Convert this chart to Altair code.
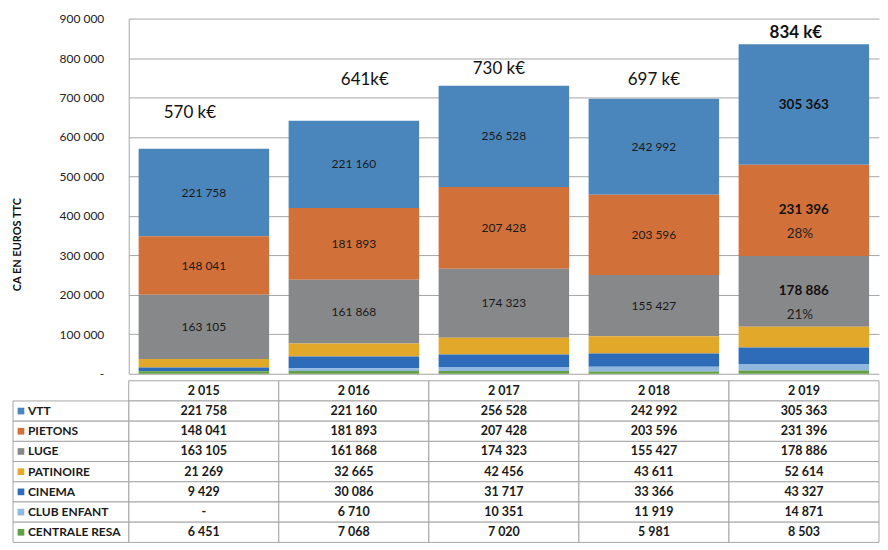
import altair as alt
import pandas as pd

years = [2015, 2016, 2017, 2018, 2019]
series = ["VTT", "PIETONS", "LUGE", "PATINOIRE", "CINEMA", "CLUB ENFANT", "CENTRALE RESA"]
vtt = [221758, 221160, 256528, 242992, 305363]
pietons = [148041, 181893, 207428, 203596, 231396]
luge = [163105, 161868, 174323, 155427, 178886]
patinoire = [21269, 32665, 42456, 43611, 52614]
cinema = [9429, 30086, 31717, 33366, 43327]
club_enfant = [0, 6710, 10351, 11919, 14871]
centrale_resa = [6451, 7068, 7020, 5981, 8503]
total_labels = ["570 k€", "641k€", "730 k€", "697 k€", "834 k€"]
colors = ["#4A86BC", "#D2703A", "#878889", "#E1A829", "#2E6BB8", "#8FB7DF", "#63A045"]

values = {
    "VTT": vtt, "PIETONS": pietons, "LUGE": luge, "PATINOIRE": patinoire,
    "CINEMA": cinema, "CLUB ENFANT": club_enfant, "CENTRALE RESA": centrale_resa,
}

rows = []
for si, s in enumerate(series):
    for yi, yr in enumerate(years):
        rows.append({"year": yr, "series": s, "value": values[s][yi],
                     "order": len(series) - 1 - si})
df = pd.DataFrame(rows)

tot = df.groupby("year", as_index=False)["value"].sum()
tot["label"] = total_labels

color_enc = alt.Color("series:N", scale=alt.Scale(domain=series, range=colors), legend=None)
GRID = "#a6a6a6"
TXT = "#1a1a1a"
W = 752

xenc = alt.X("year:O", scale=alt.Scale(paddingInner=0.13, paddingOuter=0.066), axis=None)
yscale = alt.Scale(domain=[0, 900000], nice=False)
yaxis = alt.Axis(values=list(range(0, 900001, 100000)), format=",d",
                 labelExpr="datum.value == 0 ? '-' : datum.label",
                 labelOverlap=False, labelFlush=False,
                 ticks=False, labelPadding=25, labelFontSize=12, labelColor="#222",
                 grid=True, gridColor=GRID, gridWidth=1, domain=True, domainColor=GRID,
                 title="CA EN EUROS TTC", titleFontSize=11, titleFontWeight="bold",
                 titleColor="#111", titleAngle=270, titleX=-111, titleY=226,
                 titleAlign="center", titleBaseline="middle")


def yq(field):
    return alt.Y(field, scale=yscale, axis=yaxis)


base = (
    alt.Chart(df)
    .transform_joinaggregate(total="sum(value)", groupby=["year"])
    .transform_stack(stack="value", groupby=["year"],
                     sort=[alt.SortField("order", order="ascending")], as_=["y0", "y1"])
    .transform_calculate(mid="(datum.y0 + datum.y1) / 2")
)

bars = base.mark_bar().encode(x=xenc, y=yq("y0:Q"), y2="y1:Q", color=color_enc)

top3 = "(datum.series == 'VTT' || datum.series == 'PIETONS' || datum.series == 'LUGE')"

seg_labels = base.transform_filter(f"datum.year < 2019 && {top3}").mark_text(
    fontSize=12, color=TXT, baseline="middle"
).encode(x=xenc, y=yq("mid:Q"), text=alt.Text("value:Q", format=",d"))

seg_labels19 = base.transform_filter(f"datum.year == 2019 && {top3}").mark_text(
    fontSize=13.5, fontWeight="bold", color="#111", baseline="middle"
).encode(x=xenc, y=yq("mid:Q"), text=alt.Text("value:Q", format=",d"))

pct = base.transform_filter(
    "datum.year == 2019 && (datum.series == 'PIETONS' || datum.series == 'LUGE')"
).transform_calculate(pct="format(datum.value / datum.total, '.0%')").mark_text(
    fontSize=13.5, color="#222", baseline="middle", dy=24, dx=-4
).encode(x=xenc, y=yq("mid:Q"), text="pct:N")

# total labels (hand-placed in the original: per-year label offsets)
label_style = {2015: (-14, -36, "normal"), 2016: (11, -41, "normal"),
               2017: (-5, -17, "normal"), 2018: (0, -19, "normal"),
               2019: (-8, -11, "bold")}
tot_base = alt.Chart(tot)
tot_layers = []
for yr in years:
    dx, dy, fw = label_style[yr]
    tot_layers.append(
        tot_base.transform_filter(f"datum.year == {yr}").mark_text(
            fontSize=17, fontWeight=fw, color="#111", baseline="middle", dx=dx, dy=dy
        ).encode(x=xenc, y=yq("value:Q"), text="label:N")
    )

top = alt.layer(bars, seg_labels, seg_labels19, pct, *tot_layers).properties(
    width=W, height=356
)

# ---- data table ----
row_domain = ["_hdr"] + series
trows = []
for yr in years:
    trows.append({"row": "_hdr", "year": yr, "value": 0, "kind": "hdr"})
for s in series:
    for yi, yr in enumerate(years):
        trows.append({"row": s, "year": yr, "value": values[s][yi], "kind": "val"})
tdf = pd.DataFrame(trows)
ldf = pd.DataFrame({"row": series, "series": series})

ytab = alt.Y("row:N", scale=alt.Scale(domain=row_domain, paddingInner=0, paddingOuter=0), axis=None)
xtab = alt.X("year:O", scale=alt.Scale(domain=years, paddingInner=0, paddingOuter=0), axis=None)

tbase = alt.Chart(tdf).transform_calculate(
    txt="datum.kind == 'hdr' ? format(datum.year, ',d') : "
        "(datum.value == 0 ? '-' : format(datum.value, ',d'))"
)
cells = tbase.mark_rect(fill="white", stroke=GRID, strokeWidth=1).encode(x=xtab, y=ytab)
cell_txt = tbase.mark_text(fontSize=12.5, fontWeight="bold", color=TXT, baseline="middle").encode(
    x=xtab, y=ytab, text="txt:N"
)
lbase = alt.Chart(ldf)
lcells = lbase.mark_rect(fill="white", stroke=GRID, strokeWidth=1).encode(
    x=alt.value(-116), x2=alt.value(0), y=ytab
)
lsq = lbase.mark_square(size=45, opacity=1).encode(x=alt.value(-108), y=ytab, color=color_enc)
ltxt = lbase.mark_text(align="left", fontSize=12, fontWeight="bold", color=TXT,
                       baseline="middle").encode(x=alt.value(-101), y=ytab, text="row:N")

table = alt.layer(cells, cell_txt, lcells, lsq, ltxt).properties(width=W, height=162)

chart = (
    alt.vconcat(top, table, spacing=0)
    .resolve_scale(x="independent", y="independent")
    .properties(padding={"left": 4, "top": 4, "right": 0, "bottom": 0})
    .configure(font="Lato", locale={"number": {"decimal": ",", "thousands": " ",
                                               "grouping": [3], "currency": ["", " €"]}})
    .configure_view(stroke=None)
)

chart.save("out.html", embed_options={"renderer": "svg", "actions": False})
